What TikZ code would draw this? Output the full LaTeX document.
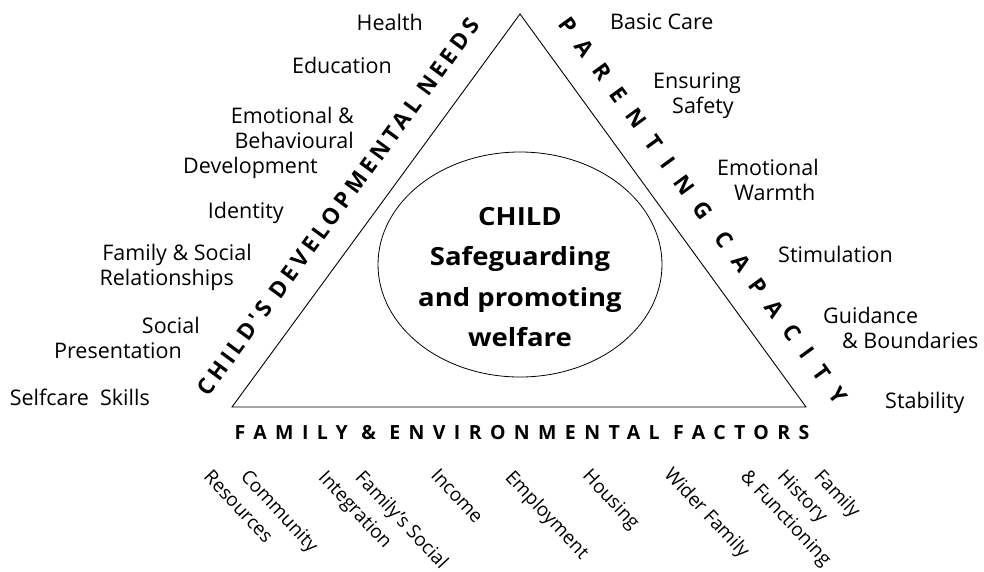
\documentclass[tikz,border=0pt]{standalone}
\usepackage{fontspec}
\setmainfont{Open Sans}
\newfontfamily\childfont[FakeStretch=1.1]{Open Sans}
\newfontfamily\needsfont[LetterSpace=18]{Open Sans}
\newfontfamily\capfont[LetterSpace=64]{Open Sans}
\newfontfamily\factfont[LetterSpace=43]{Open Sans}
\usetikzlibrary{shapes.geometric,positioning}
\tikzstyle{need} = [anchor=base east, align=right, inner sep=0pt, font=\fontsize{21.5}{25}\selectfont]
\tikzstyle{care} = [anchor=base west, align=left, inner sep=0pt, font=\fontsize{21.5}{25}\selectfont]
\tikzstyle{factor} = [anchor=north west, align=left, rotate=-47, inner sep=0pt, font=\fontsize{19}{27}\selectfont]
\tikzstyle{side} = [sloped, above, inner xsep=0pt, inner ysep=24pt]

\begin{document}
\begin{tikzpicture}[x=1pt, y=-1pt]
\useasboundingbox (0,0) rectangle (984,571);

% Triangle
\coordinate (apex) at (520,14);
\coordinate (bl) at (232,407);
\coordinate (br) at (806,407);
\draw[line width=0.9pt, line join=miter] (apex) -- (bl) -- (br) -- cycle;

% Central node
\node (child) [draw, ellipse, line width=0.8pt, minimum width=284pt, minimum height=225pt, inner sep=0pt] at (520,264.5) {};
\node (welfare) [anchor=north, align=center, inner sep=0pt, font=\childfont\bfseries\fontsize{25}{40.5}\selectfont] at (520,207) {CHILD\\Safeguarding\\and promoting\\welfare};

% Side titles
\path (bl) -- node[side, pos=0.46, font=\needsfont\bfseries\fontsize{22.5}{22.5}\selectfont] (needs) {CHILD'S DEVELOPMENTAL NEEDS} (apex);
\path (apex) -- node[side, pos=0.548, font=\capfont\bfseries\fontsize{22.5}{22.5}\selectfont] (capacity) {PARENTING CAPACITY} (br);
\node (factors) [anchor=base, inner sep=0pt, font=\factfont\bfseries\fontsize{19.5}{19.5}\selectfont] at (522,439) {FAMILY \& ENVIRONMENTAL FACTORS};

% Developmental needs (anchored at the last line)
\node (health) [need] at (423,30) {Health};
\node (education) [need] at (392,73) {Education};
\node (emotional) [need] at (354,173) {Emotional \&\\Behavioural\hspace*{18pt}\\Development\hspace*{36pt}};
\node (identity) [need] at (284,218) {Identity};
\node (relations) [need] at (252,285) {Family \& Social\\Relationships\hspace*{18pt}};
\node (presentation) [need] at (200,358) {Social\\Presentation\hspace*{18pt}};
\node (selfcare) [need] at (150,405) {Selfcare\ \ Skills};

% Parenting capacity
\node (basic) [care] at (610,29) {Basic Care};
\node (safety) [care] at (653,113) {Ensuring\\\hspace*{19pt}Safety};
\node (warmth) [care] at (717,200) {Emotional\\\hspace*{17pt}Warmth};
\node (stimulation) [care] at (778,262) {Stimulation};
\node (guidance) [care] at (823,348) {Guidance\\\hspace*{19pt}\& Boundaries};
\node (stability) [care] at (885,408) {Stability};

% Family and environmental factors
\node (community) [factor] at (250,468) {Community\\\hspace*{-25pt}Resources};
\node (integration) [factor] at (365,468) {Family’s Social\\\hspace*{-25pt}Integration};
\node (income) [factor] at (440,467) {Income};
\node (employment) [factor] at (515,468) {Employment};
\node (housing) [factor] at (592,467) {Housing};
\node (wider) [factor] at (674,465) {Wider Family};
\node (history) [factor] at (824,467) {Family\\\hspace*{-25pt}History\\\hspace*{-50pt}\& Functioning};
\end{tikzpicture}
\end{document}
